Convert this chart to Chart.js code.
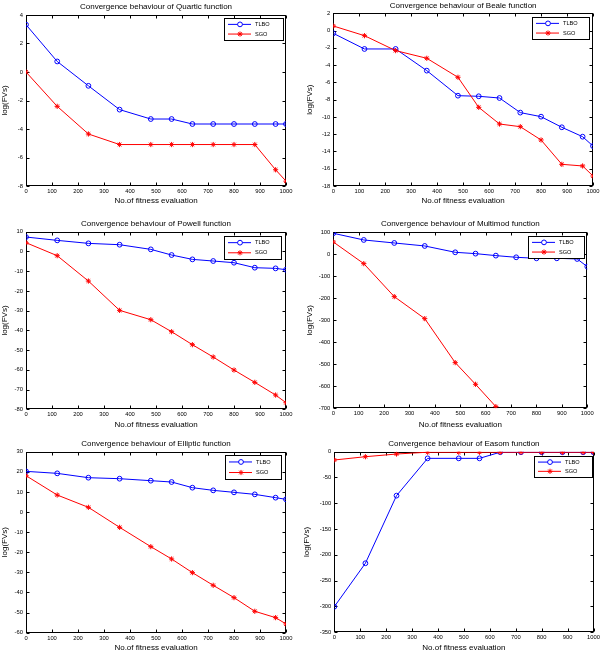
<!DOCTYPE html>
<html><head><meta charset="utf-8">
<script src="https://cdn.jsdelivr.net/npm/chart.js@4.4.1/dist/chart.umd.min.js"></script>
<style>
html,body{margin:0;padding:0;background:#fff;}
body{width:602px;height:653px;position:relative;overflow:hidden;}
.cell{position:absolute;}
canvas{display:block;}
</style></head><body>
<div class="cell" id="cell0"><canvas id="cv0"></canvas></div>
<div class="cell" id="cell1"><canvas id="cv1"></canvas></div>
<div class="cell" id="cell2"><canvas id="cv2"></canvas></div>
<div class="cell" id="cell3"><canvas id="cv3"></canvas></div>
<div class="cell" id="cell4"><canvas id="cv4"></canvas></div>
<div class="cell" id="cell5"><canvas id="cv5"></canvas></div>
<script>
// ---- data ----
const evals = [0, 120, 240, 360, 480, 560, 640, 720, 800, 880, 960, 1000];
const seriesNames = ['TLBO', 'SGO'];
const xTicks = [0, 100, 200, 300, 400, 500, 600, 700, 800, 900, 1000];

const quarticTLBO = [3.32, 0.74, -0.97, -2.64, -3.30, -3.30, -3.65, -3.65, -3.65, -3.65, -3.65, -3.65];
const quarticSGO  = [0.0, -2.41, -4.35, -5.09, -5.09, -5.09, -5.09, -5.09, -5.09, -5.09, -6.86, -7.66];

const bealeTLBO = [-0.32, -2.13, -2.13, -4.64, -7.54, -7.61, -7.81, -9.5, -9.97, -11.2, -12.29, -13.37];
const bealeSGO  = [0.53, -0.59, -2.32, -3.21, -5.41, -8.89, -10.82, -11.13, -12.67, -15.49, -15.68, -16.84];

const powellTLBO = [7.3, 5.61, 4.09, 3.41, 1.05, -1.82, -4.02, -4.86, -5.71, -8.24, -8.58, -9.26];
const powellSGO  = [4.43, -2.16, -15.0, -29.86, -34.6, -40.68, -47.26, -53.5, -60.1, -66.35, -72.77, -76.66];

const multimodTLBO = [95.5, 65.2, 51.5, 37.9, 9.1, 3.0, -6.0, -13.6, -18.2, -18.2, -21.2, -56.0];
const multimodSGO  = [56.0, -42.4, -192.4, -292.4, -492.4, -590.9, -692.4, null, null, null, null, null];

const ellipticTLBO = [20.22, 19.23, 17.07, 16.57, 15.58, 14.92, 12.1, 10.77, 9.78, 8.78, 7.13, 6.3];
const ellipticSGO  = [18.07, 8.45, 2.32, -7.63, -17.24, -23.37, -30.17, -36.47, -42.6, -49.4, -52.55, -55.7];

const easomTLBO = [-300.5, -216.3, -85.2, -12.9, -12.9, -12.9, -1.0, -1.0, -1.0, -1.0, -1.0, -1.0];
const easomSGO  = [-16.1, -9.7, -4.5, -1.0, -1.0, -1.0, -1.0, -1.0, -1.0, -1.0, -1.0, -1.0];

const titles = [
  'Convergence behaviour of Quartic function',
  'Convergence behaviour of Beale function',
  'Convergence behaviour of Powell function',
  'Convergence behaviour of Multimod function',
  'Convergence behaviour of Elliptic function',
  'Convergence behaviour of Easom function'
];
const yRanges = [[-8, 4, 2], [-18, 2, 2], [-80, 10, 10], [-700, 100, 100], [-60, 30, 10], [-350, 0, 50]];
const xLabel = 'No.of fitness evaluation';
const yLabel = 'log(FVs)';

// ---- layout (page pixels) ----
const layouts = [
  {cell:[0,0,300,215],   area:[26,15,286,186],       titleY:6.7,  xlabY:200.7, ylabX:4,     legend:[224,18,59,22]},
  {cell:[300,0,302,215], area:[333.3,13.3,593,186],  titleY:5.7,  xlabY:200.7, ylabX:310,   legend:[532,17,57,22]},
  {cell:[0,215,300,215], area:[26,231.7,286,409.3],  titleY:224,  xlabY:424.3, ylabX:4,     legend:[224,236,57,23]},
  {cell:[300,215,302,215],area:[333.3,232.3,587.3,408.3],titleY:224,xlabY:424.3,ylabX:310,  legend:[528,236,56,22]},
  {cell:[0,430,300,223], area:[26,451.7,286,632.7],  titleY:443.7,xlabY:648.3, ylabX:4,     legend:[225,455,56,24]},
  {cell:[300,430,302,223],area:[334.3,451.7,594,632.3],titleY:443.3,xlabY:648.3,ylabX:306.7,legend:[534,456,58,21]}
];
const dataSets = [
  [quarticTLBO, quarticSGO], [bealeTLBO, bealeSGO], [powellTLBO, powellSGO],
  [multimodTLBO, multimodSGO], [ellipticTLBO, ellipticSGO], [easomTLBO, easomSGO]
];

const FONT = "'Liberation Sans', Arial, Helvetica, sans-serif";
const LABEL_SIZE = 8, TICK_SIZE = 5.8, LEG_SIZE = 5.6;
const LH = LABEL_SIZE * 1.2;

const framePlugin = {
  id: 'frame',
  beforeDatasetsDraw(chart) {
    const {ctx, chartArea: a, scales} = chart;
    ctx.save();
    ctx.strokeStyle = '#000';
    ctx.lineWidth = 1;
    const L = Math.round(a.left) + 0.5, R = Math.round(a.right) - 0.5;
    const T = Math.round(a.top) + 0.5, B = Math.round(a.bottom) - 0.5;
    ctx.strokeRect(L, T, R - L, B - T);
    ctx.beginPath();
    scales.x.ticks.forEach(t => {
      const px = Math.round(scales.x.getPixelForValue(t.value)) + 0.5;
      ctx.moveTo(px, B); ctx.lineTo(px, B - 3);
      ctx.moveTo(px, T); ctx.lineTo(px, T + 3);
    });
    scales.y.ticks.forEach(t => {
      const py = Math.round(scales.y.getPixelForValue(t.value)) + 0.5;
      ctx.moveTo(L, py); ctx.lineTo(L + 3, py);
      ctx.moveTo(R, py); ctx.lineTo(R - 3, py);
    });
    ctx.stroke();
    ctx.restore();
  }
};

const legendPlugin = {
  id: 'boxLegend',
  afterDatasetsDraw(chart, args, opts) {
    const {ctx} = chart;
    const [x, y, w, h] = opts.box;
    ctx.save();
    ctx.fillStyle = '#fff';
    ctx.fillRect(x, y, w, h);
    ctx.strokeStyle = '#000';
    ctx.lineWidth = 1;
    ctx.strokeRect(Math.round(x) + 0.5, Math.round(y) + 0.5, Math.round(w), Math.round(h));
    const rows = [0.29, 0.73];
    chart.data.datasets.slice().sort((a, b) => a.legendIdx - b.legendIdx).forEach((ds, i) => {
      const yy = y + h * rows[i];
      ctx.strokeStyle = ds.borderColor;
      ctx.lineWidth = 1;
      ctx.beginPath();
      ctx.moveTo(x + 4, yy); ctx.lineTo(x + 27, yy);
      ctx.stroke();
      ctx.fillStyle = '#fff';
      Chart.helpers.drawPoint(ctx, {pointStyle: ds.pointStyle, radius: ds.pointRadius, rotation: 0, borderWidth: 1}, x + 16, yy);
      ctx.fillStyle = '#000';
      ctx.font = LEG_SIZE + 'px ' + FONT;
      ctx.textBaseline = 'middle';
      ctx.textAlign = 'left';
      ctx.fillText(ds.label, x + 31, yy);
    });
    ctx.restore();
  }
};

layouts.forEach((lay, k) => {
  const [cx, cy, cw, ch] = lay.cell;
  const [l, t, r, b] = lay.area;
  const div = document.getElementById('cell' + k);
  div.style.left = cx + 'px'; div.style.top = cy + 'px';
  div.style.width = cw + 'px'; div.style.height = ch + 'px';
  const cv = document.getElementById('cv' + k);
  cv.width = cw; cv.height = ch;

  const padLeft = Math.max(0, lay.ylabX - LH / 2 - cx);
  const yW = l - cx - padLeft;
  const padRight = cx + cw - r;
  const tPadTop = Math.max(0, lay.titleY - LH / 2 - cy);
  const tPadBottom = (t - cy) - tPadTop - LH;
  const xH = lay.xlabY + LH / 2 - b;
  const padBottom = Math.max(0, cy + ch - (lay.xlabY + LH / 2));

  const [yMin, yMax, yStep] = yRanges[k];
  const [tl, sg] = dataSets[k];

  new Chart(cv, {
    type: 'line',
    data: {
      datasets: [
        {
          label: seriesNames[0], legendIdx: 0, order: 1,
          data: evals.map((e, i) => ({x: e, y: tl[i]})),
          borderColor: '#0000ff', borderWidth: 1,
          pointStyle: 'circle', pointRadius: 2.4, pointBorderWidth: 1,
          pointBorderColor: '#0000ff', pointBackgroundColor: 'rgba(0,0,0,0)',
          tension: 0, fill: false
        },
        {
          label: seriesNames[1], legendIdx: 1, order: 0,
          data: evals.map((e, i) => ({x: e, y: sg[i]})),
          borderColor: '#ff0000', borderWidth: 1,
          pointStyle: 'star', pointRadius: 2.6, pointBorderWidth: 1,
          pointBorderColor: '#ff0000', pointBackgroundColor: '#ff0000',
          tension: 0, fill: false, spanGaps: false
        }
      ]
    },
    options: {
      responsive: false, animation: false, devicePixelRatio: 1,
      layout: {autoPadding: false, padding: {left: padLeft, right: padRight, top: 0, bottom: padBottom}},
      plugins: {
        legend: {display: false}, tooltip: {enabled: false},
        title: {
          display: true, text: titles[k], fullSize: false, color: '#000',
          font: {family: FONT, size: LABEL_SIZE, weight: 'normal', lineHeight: 1.2},
          padding: {top: tPadTop, bottom: tPadBottom}
        },
        boxLegend: {box: lay.legend.map((v, i) => i === 0 ? v - cx : (i === 1 ? v - cy : v))}
      },
      scales: {
        x: {
          type: 'linear', min: 0, max: 1000,
          afterBuildTicks: s => { s.ticks = xTicks.map(v => ({value: v})); },
          afterFit: s => { s.height = xH; },
          grid: {display: false, drawTicks: false}, border: {display: false},
          ticks: {color: '#000', padding: 2, maxRotation: 0, autoSkip: false,
                  font: {family: FONT, size: TICK_SIZE}, callback: v => String(v)},
          title: {display: true, text: xLabel, color: '#000', padding: 0,
                  font: {family: FONT, size: LABEL_SIZE, lineHeight: 1.2}}
        },
        y: {
          type: 'linear', min: yMin, max: yMax,
          ticks: {stepSize: yStep, color: '#000', padding: 3, autoSkip: false,
                  font: {family: FONT, size: TICK_SIZE}, callback: v => String(v)},
          afterFit: s => { s.width = yW; },
          grid: {display: false, drawTicks: false}, border: {display: false},
          title: {display: true, text: yLabel, color: '#000', padding: 0,
                  font: {family: FONT, size: LABEL_SIZE, lineHeight: 1.2}}
        }
      }
    },
    plugins: [framePlugin, legendPlugin]
  });
});
</script>
</body></html>
